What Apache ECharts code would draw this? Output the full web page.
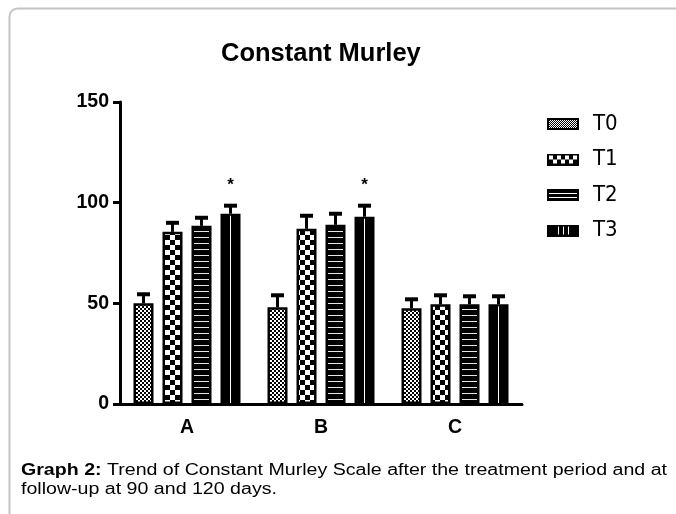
<!DOCTYPE html>
<html>
<head>
<meta charset="utf-8">
<script src="https://cdn.jsdelivr.net/npm/echarts@6/dist/echarts.min.js"></script>
<style>
  html, body { margin: 0; padding: 0; background: #fff; }
  #chart { width: 676px; height: 514px; }
</style>
</head>
<body>
<div id="chart"></div>
<script>
// data
var categories = ["A", "B", "C"];
var seriesNames = ["T0", "T1", "T2", "T3"];
var t0 = [50, 48, 47.5];
var t1 = [85.5, 87, 49.5];
var t2 = [88.5, 89, 49.5];
var t3 = [94.5, 93, 49.5];
var t0Err = [4.5, 6, 4.5];
var t1Err = [4.5, 6.5, 4.5];
var t2Err = [4, 5.5, 4];
var t3Err = [4, 5.5, 4];
var t3Sig = ["*", "*", ""];
var yMin = 0, yMax = 150, yStep = 50;
var titleText = "Constant Murley";
var captionBold = "Graph 2:";
var captionLine1 = " Trend of Constant Murley Scale after the treatment period and at";
var captionLine2 = "follow-up at 90 and 120 days.";

var FONT = "Liberation Sans, Arial, sans-serif";
var NARROW = "Liberation Sans Narrow, DejaVu Sans Condensed, Liberation Sans, Arial, sans-serif";

function makeCanvas(w, h, draw) {
  var c = document.createElement("canvas");
  c.width = w; c.height = h;
  draw(c.getContext("2d"), w, h);
  return c;
}

// fill patterns of the bars
var patFine = makeCanvas(4, 4, function (ctx) {
  ctx.fillStyle = "#fff"; ctx.fillRect(0, 0, 4, 4);
  ctx.fillStyle = "#000"; ctx.fillRect(0, 0, 2, 2); ctx.fillRect(2, 2, 2, 2);
});
var patCoarse = makeCanvas(10, 10, function (ctx) {
  ctx.fillStyle = "#fff"; ctx.fillRect(0, 0, 10, 10);
  ctx.fillStyle = "#000"; ctx.fillRect(0, 0, 5, 5); ctx.fillRect(5, 5, 5, 5);
});
var patLines = makeCanvas(6, 6, function (ctx) {
  ctx.fillStyle = "#000"; ctx.fillRect(0, 0, 6, 6);
  ctx.fillStyle = "#e6e6e6"; ctx.fillRect(0, 3, 6, 1);
});

// legend icons (icon 32x12 plus transparent gap on the right)
function legendIcon(draw) {
  return "image://" + makeCanvas(41, 12, function (ctx) {
    draw(ctx);
  }).toDataURL();
}
var icons = [
  legendIcon(function (ctx) {
    ctx.fillStyle = "#000"; ctx.fillRect(0, 0, 32, 12);
    ctx.fillStyle = "#fff"; ctx.fillRect(2, 2, 28, 8);
    ctx.fillStyle = "#000";
    for (var y = 2; y < 10; y++) for (var x = 2; x < 30; x++) if ((x + y) % 2 === 0) ctx.fillRect(x, y, 1, 1);
  }),
  legendIcon(function (ctx) {
    ctx.fillStyle = "#000"; ctx.fillRect(0, 0, 32, 12);
    ctx.fillStyle = "#fff";
    for (var x = 2; x < 29; x += 8) { ctx.fillRect(x, 2, 4, 4); if (x + 4 < 29) ctx.fillRect(x + 4, 6, 4, 4); }
  }),
  legendIcon(function (ctx) {
    ctx.fillStyle = "#000"; ctx.fillRect(0, 0, 32, 12);
    ctx.fillStyle = "#fff"; ctx.fillRect(2, 4, 28, 1); ctx.fillRect(2, 8, 28, 1);
  }),
  legendIcon(function (ctx) {
    ctx.fillStyle = "#000"; ctx.fillRect(0, 0, 32, 12);
    ctx.fillStyle = "#fff"; ctx.fillRect(11, 2, 1, 8); ctx.fillRect(16, 2, 1, 8); ctx.fillRect(21, 2, 1, 8);
  })
];

var values = [t0, t1, t2, t3];
var errors = [t0Err, t1Err, t2Err, t3Err];
var fills = [
  { image: patFine, repeat: "repeat" },
  { image: patCoarse, repeat: "repeat" },
  { image: patLines, repeat: "repeat" },
  "#000"
];

var BAR_W = 20, BAR_PITCH = 29;

var series = seriesNames.map(function (name, i) {
  return {
    name: name,
    type: "bar",
    data: values[i],
    barWidth: BAR_W,
    barGap: "45%",
    itemStyle: { color: fills[i], borderColor: "#000", borderWidth: 2.5 },
    emphasis: { disabled: true },
    silent: true
  };
});

// error bars, T3 center stripe and significance marks
var errRows = [];
for (var s = 0; s < 4; s++) {
  for (var c = 0; c < categories.length; c++) {
    errRows.push([c, s, values[s][c], errors[s][c]]);
  }
}
series.push({
  name: "err",
  type: "custom",
  z: 5,
  silent: true,
  clip: false,
  encode: { x: 0, y: 2 },
  data: errRows,
  renderItem: function (params, api) {
    var ci = api.value(0), si = api.value(1), v = api.value(2), e = api.value(3);
    var p0 = api.coord([ci, 0]);
    var p1 = api.coord([ci, v]);
    var p2 = api.coord([ci, v + e]);
    var x = p1[0] + (si - 1.5) * BAR_PITCH;
    var kids = [];
    if (si === 3) {
      kids.push({ type: "line", shape: { x1: x, y1: p1[1] + 2, x2: x, y2: p0[1] - 1 }, style: { stroke: "#fff", lineWidth: 1 } });
    }
    kids.push({ type: "line", shape: { x1: x, y1: p1[1], x2: x, y2: p2[1] }, style: { stroke: "#000", lineWidth: 3 } });
    kids.push({ type: "line", shape: { x1: x - 6.5, y1: p2[1], x2: x + 6.5, y2: p2[1] }, style: { stroke: "#000", lineWidth: 4 } });
    if (si === 3 && t3Sig[ci]) {
      kids.push({ type: "text", style: { x: x, y: p2[1] - 12, text: t3Sig[ci], align: "center", verticalAlign: "bottom",
        font: "bold 17px " + FONT, fill: "#000" } });
    }
    return { type: "group", children: kids };
  }
});

// caption stretched to the width of the reference caption
var mctx = document.createElement("canvas").getContext("2d");
mctx.font = "bold 16px Liberation Sans";
var wBold = mctx.measureText(captionBold).width;
mctx.font = "16px Liberation Sans";
var wRest = mctx.measureText(captionLine1).width;
var capScale = 646 / (wBold + wRest);

var myChart = echarts.init(document.getElementById("chart"));
myChart.setOption({
  backgroundColor: "#fff",
  animation: false,
  title: {
    text: titleText,
    left: 221,
    top: 41,
    padding: 0,
    textStyle: { fontFamily: FONT, fontSize: 25.5, fontWeight: "bold", color: "#000" }
  },
  legend: {
    orient: "vertical",
    left: 547,
    top: 113,
    itemWidth: 41,
    itemHeight: 12,
    itemGap: 13.5,
    padding: 0,
    selectedMode: false,
    data: seriesNames.map(function (n, i) { return { name: n, icon: icons[i] }; }),
    textStyle: { fontFamily: NARROW, fontSize: 22, color: "#000" }
  },
  grid: { left: 120, right: 154, top: 102, bottom: 110 },
  xAxis: {
    type: "category",
    data: categories,
    axisLine: { lineStyle: { color: "#000", width: 3 } },
    axisTick: { alignWithLabel: true, length: 7, lineStyle: { color: "#000", width: 3 } },
    axisLabel: { margin: 14, fontFamily: FONT, fontSize: 19.5, fontWeight: "bold", color: "#000" },
    splitLine: { show: false }
  },
  yAxis: {
    type: "value",
    min: yMin,
    max: yMax,
    interval: yStep,
    axisLine: { show: true, lineStyle: { color: "#000", width: 3 } },
    axisTick: { show: true, length: 7, lineStyle: { color: "#000", width: 3 } },
    axisLabel: { margin: 11, fontFamily: FONT, fontSize: 19.5, fontWeight: "bold", color: "#000" },
    splitLine: { show: false }
  },
  series: series,
  graphic: [
    { type: "rect", z: -10, silent: true, shape: { x: 9.5, y: 8.5, width: 800, height: 700, r: 8 },
      style: { fill: null, stroke: "#c4c4c4", lineWidth: 2 } },
    { type: "text", x: 21, y: 471, scaleX: capScale, silent: true,
      style: { text: "{b|" + captionBold + "}{n|" + captionLine1 + "}", verticalAlign: "middle",
        rich: { b: { font: "bold 16px " + FONT, fill: "#000" }, n: { font: "16px " + FONT, fill: "#000" } } } },
    { type: "text", x: 21, y: 490, scaleX: capScale, silent: true,
      style: { text: captionLine2, verticalAlign: "middle", font: "16px " + FONT, fill: "#000" } }
  ]
});
</script>
</body>
</html>
